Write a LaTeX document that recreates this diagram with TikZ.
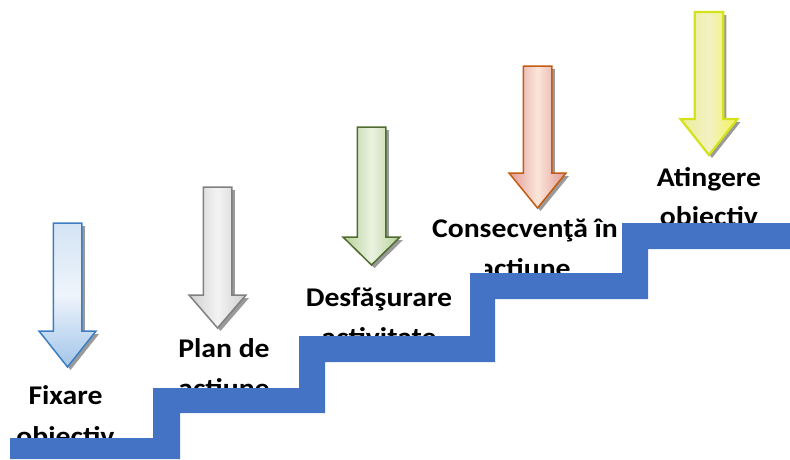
\documentclass[tikz,border=0pt]{standalone}
\usepackage{fontspec}
\setmainfont{Carlito}[FakeStretch=1.1]
\definecolor{stairblue}{HTML}{4472C4}
\definecolor{shadowgray}{HTML}{9A9A9A}
\definecolor{bluline}{HTML}{3D7EC3}
\definecolor{grayline}{HTML}{808080}
\definecolor{greenline}{HTML}{4F6B2E}
\definecolor{orangeline}{HTML}{C55A11}
\definecolor{yellowline}{HTML}{D3E21B}
\definecolor{blueA}{HTML}{D4E4F4}
\definecolor{blueB}{HTML}{EEF4FB}
\definecolor{blueC}{HTML}{A2C5E9}
\definecolor{grayA}{HTML}{CFCFCF}
\definecolor{grayB}{HTML}{F3F3F3}
\definecolor{greenA}{HTML}{B7D09A}
\definecolor{greenB}{HTML}{EAF2E0}
\definecolor{orangeA}{HTML}{DE9A96}
\definecolor{orangeB}{HTML}{FCE6DA}
\definecolor{yellowA}{HTML}{ECEC96}
\definecolor{yellowB}{HTML}{F2F2C4}
\definecolor{yellowC}{HTML}{F4F455}
\newcommand\blockdown[5]{%
  \fill[ashadow,shift={(3,3)}] ({#1-14.25},#2) -- ({#1+14.25},#2) -- ({#1+14.25},#3) -- ({#1+28.5},#3) -- (#1,#4) -- ({#1-28.5},#3) -- ({#1-14.25},#3) -- cycle;
  \path[arrowbox,#5] ({#1-14.25},#2) -- ({#1+14.25},#2) -- ({#1+14.25},#3) -- ({#1+28.5},#3) -- (#1,#4) -- ({#1-28.5},#3) -- ({#1-14.25},#3) -- cycle;
}
\begin{document}
\begin{tikzpicture}[x=1pt,y=-1pt,
  lbl/.style={font=\fontsize{27}{32}\selectfont\bfseries, inner sep=0pt, anchor=base, text=black},
  stair/.style={fill=stairblue, draw=none},
  arrowbox/.style={line width=1.5pt, line join=miter},
  ashadow/.style={fill=shadowgray, draw=none},
  bluearrow/.style={draw=bluline, top color=blueA, bottom color=blueC, middle color=blueB},
  grayarrow/.style={draw=grayline, left color=grayA, right color=grayA, middle color=grayB},
  greenarrow/.style={draw=greenline, left color=greenA, right color=greenA, middle color=greenB},
  orangearrow/.style={draw=orangeline, left color=orangeA, right color=orangeA, middle color=orangeB},
  yellowarrow/.style={draw=yellowline, line width=2.2pt, left color=yellowA, right color=yellowC, middle color=yellowB}]
\useasboundingbox (0,0) rectangle (790,459);
% labels
\node[lbl] (l1a) at (65.5,404) {Fixare};
\node[lbl] (l1b) at (65.5,445) {obiectiv};
\node[lbl] (l2a) at (224,357) {Plan de};
\node[lbl] (l2b) at (224,397) {actiune};
\node[lbl] (l3a) at (379,306) {Desfăşurare};
\node[lbl] (l3b) at (379,346) {activitate};
\node[lbl] (l4a) at (525,237.5) {Consecvenţă în};
\begin{scope}
  \clip (485,250) rectangle (620,300);
  \node[lbl] (l4b) at (525,277) {actiune};
\end{scope}
\node[lbl] (l5a) at (709,186) {Atingere};
\node[lbl] (l5b) at (709,225) {obiectiv};
% arrows
\blockdown{67.5}{223}{331}{367}{bluearrow}
\blockdown{217.5}{187}{295}{328}{grayarrow}
\blockdown{371.5}{127}{237}{265}{greenarrow}
\blockdown{537.5}{66}{173}{208}{orangearrow}
\blockdown{709}{12}{119}{155}{yellowarrow}
% stair
\fill[stair] (10,438) -- (153,438) -- (153,388) -- (299,388) -- (299,336) -- (470,336) -- (470,273) -- (622,273) -- (622,223) -- (790,223) -- (790,249) -- (648,249) -- (648,299) -- (495,299) -- (495,362) -- (325,362) -- (325,413) -- (180,413) -- (180,459) -- (10,459) -- cycle;
\end{tikzpicture}
\end{document}
